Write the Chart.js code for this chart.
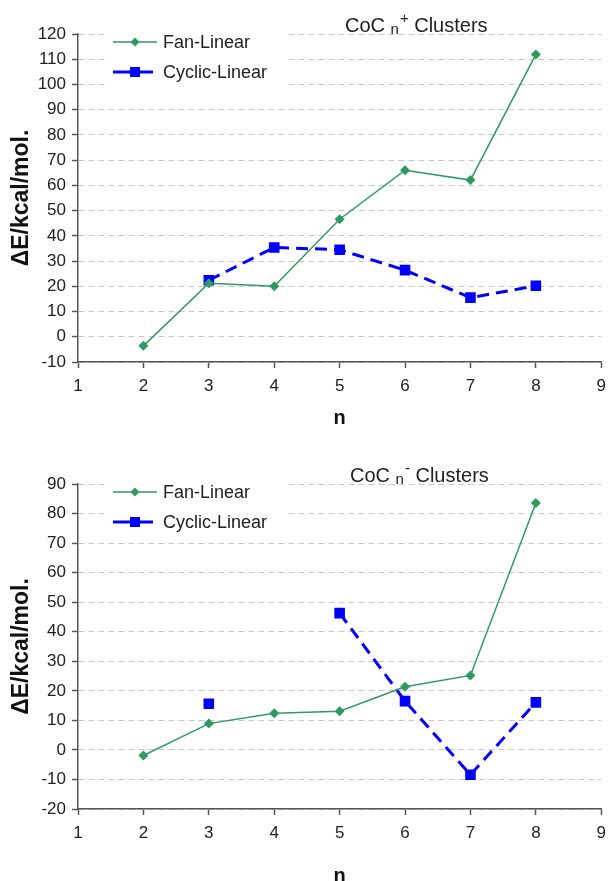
<!DOCTYPE html>
<html>
<head>
<meta charset="utf-8">
<script src="https://cdn.jsdelivr.net/npm/chart.js@4.4.0/dist/chart.umd.min.js"></script>
<style>
  body { margin: 0; background: #fff; width: 614px; height: 881px; overflow: hidden; position: relative; }
  canvas { position: absolute; left: 0; }
</style>
</head>
<body>
<canvas id="cation" width="614" height="430" style="top:0px"></canvas>
<canvas id="anion" width="614" height="451" style="top:430px"></canvas>
<script>
// valori (n = numero di atomi di carbonio)
const nValues = [2, 3, 4, 5, 6, 7, 8]
const seriesNames = ['Fan-Linear', 'Cyclic-Linear']

// CoCn+ : delta E in kcal/mol
const fanCation = [-3.6, 21.2, 20.0, 46.6, 66.0, 62.1, 111.9]
const cyclicCation = [null, 22.4, 35.4, 34.5, 26.4, 15.5, 20.2]

// CoCn- : delta E in kcal/mol (manca il ciclico per n = 4)
const fanAnion = [-1.9, 8.9, 12.4, 13.1, 21.4, 25.2, 83.6]
const cyclicAnion = [null, 15.6, null, 46.3, 16.5, -8.4, 16.1]

// estremi degli assi
const nRange = [1, 9]
const cationYRange = [-10, 120]
const anionYRange = [-20, 90]

const FONT = '"Liberation Sans", Arial, sans-serif'
const GREEN = '#2e9a62'
const BLUE = '#0000ff'

function toPoints(ys) {
  return nValues.map((n, i) => ({ x: n, y: ys[i] }))
}

// titolo tipo "CoC n+ Clusters" con pedice e apice
function titlePlugin(sign, left) {
  return {
    id: 'clusterTitle',
    afterDraw(chart) {
      const ctx = chart.ctx
      let x = left
      const y = chart.chartArea.top - 2
      ctx.save()
      ctx.fillStyle = '#222'
      ctx.textAlign = 'left'
      ctx.textBaseline = 'alphabetic'
      ctx.font = '20px ' + FONT
      ctx.fillText('CoC', x, y)
      x += ctx.measureText('CoC ').width
      ctx.font = '15px ' + FONT
      ctx.fillText('n', x, y + 2)
      x += ctx.measureText('n').width + 1
      ctx.fillText(sign, x, y - 9)
      x += ctx.measureText(sign).width
      ctx.font = '20px ' + FONT
      ctx.fillText(' Clusters', x, y)
      ctx.restore()
    }
  }
}

// legenda dentro l'area del grafico, con riquadro bianco sopra la griglia
const insideLegend = {
  id: 'insideLegend',
  afterDraw(chart) {
    const ctx = chart.ctx
    const top = chart.chartArea.top
    ctx.save()
    ctx.fillStyle = '#fff'
    ctx.fillRect(107, top - 6, 181, 62)
    chart.data.datasets.forEach((ds, i) => {
      const y = top + 8 + i * 30
      ctx.strokeStyle = ds.borderColor
      ctx.fillStyle = ds.borderColor
      ctx.lineWidth = ds.borderWidth
      ctx.setLineDash([])
      ctx.beginPath()
      ctx.moveTo(113, y)
      ctx.lineTo(i === 0 ? 157 : 153, y)
      ctx.stroke()
      ctx.beginPath()
      if (ds.pointStyle === 'rectRot') {
        ctx.moveTo(135, y - 4.5)
        ctx.lineTo(139.5, y)
        ctx.lineTo(135, y + 4.5)
        ctx.lineTo(130.5, y)
        ctx.closePath()
      } else {
        ctx.rect(130, y - 5, 10, 10)
      }
      ctx.fill()
      ctx.fillStyle = '#222'
      ctx.font = '18px ' + FONT
      ctx.textBaseline = 'middle'
      ctx.fillText(ds.label, 163, y + 1)
    })
    ctx.restore()
  }
}

function makeChart(id, fan, cyclic, yRange, sign, titleLeft, padTop, xHeight, nPad) {
  return new Chart(document.getElementById(id), {
    type: 'line',
    plugins: [insideLegend, titlePlugin(sign, titleLeft)],
    data: {
      datasets: [
        {
          label: seriesNames[0],
          data: toPoints(fan),
          borderColor: GREEN,
          backgroundColor: GREEN,
          borderWidth: 1.5,
          pointStyle: 'rectRot',
          pointRadius: 5,
          pointBorderWidth: 0,
        },
        {
          label: seriesNames[1],
          data: toPoints(cyclic),
          borderColor: BLUE,
          backgroundColor: BLUE,
          borderWidth: 3,
          borderDash: [12, 7],
          pointStyle: 'rect',
          pointRadius: 7.5,
          pointBorderWidth: 0,
          spanGaps: false,
        },
      ],
    },
    options: {
      responsive: false,
      animation: false,
      layout: { padding: { top: padTop, right: 11, left: 0, bottom: 0 } },
      plugins: { legend: { display: false }, tooltip: { enabled: false } },
      scales: {
        x: {
          type: 'linear',
          min: nRange[0],
          max: nRange[1],
          afterFit(scale) { scale.height = xHeight },
          ticks: { stepSize: 1, padding: 8, color: '#222', font: { family: FONT, size: 17 } },
          grid: { drawOnChartArea: false, drawTicks: true, tickLength: 6, tickColor: '#555', tickWidth: 1.5 },
          border: { color: '#555', width: 1.5 },
          title: {
            display: true, text: 'n', color: '#111',
            font: { family: FONT, size: 20, weight: 'bold' },
            padding: { top: 0, bottom: nPad },
          },
        },
        y: {
          min: yRange[0],
          max: yRange[1],
          afterFit(scale) { scale.width = 78 },
          ticks: { stepSize: 10, padding: 6, color: '#222', font: { family: FONT, size: 17 } },
          grid: { color: '#c8c8c8', lineWidth: 1, tickLength: 6, tickColor: '#555', tickWidth: 1.5, tickBorderDash: [] },
          border: { color: '#555', width: 1.5, dash: [6, 4] },
          title: {
            display: true, text: 'ΔE/kcal/mol.', color: '#111',
            font: { family: FONT, size: 23, weight: 'bold' },
            padding: { top: 8, bottom: 0 },
          },
        },
      },
    },
  })
}

makeChart('cation', fanCation, cyclicCation, cationYRange, '+', 345, 34, 68, 0)
makeChart('anion', fanAnion, cyclicAnion, anionYRange, '-', 350, 54, 72, -7)
</script>
</body>
</html>
